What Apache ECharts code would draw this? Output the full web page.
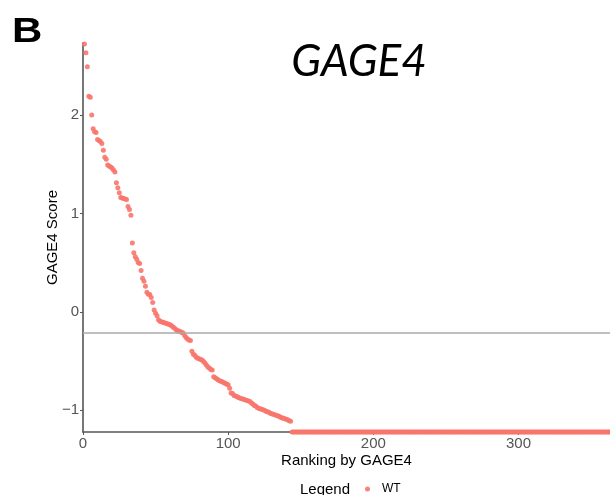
<!DOCTYPE html>
<html>
<head>
<meta charset="utf-8">
<script src="https://cdn.jsdelivr.net/npm/echarts@6/dist/echarts.min.js"></script>
<style>
  html, body { margin: 0; padding: 0; background: #fff; }
  #chart { width: 610px; height: 495px; }
</style>
</head>
<body>
<div id="chart"></div>
<script>
// GAGE4 scores of the WT samples, ordered by rank (rank = position + 1)
const rankedScores = [
  2.72, 2.63, 2.49, 2.19, 2.18, 2.00, 1.86, 1.83, 1.82, 1.75,
  1.74, 1.73, 1.71, 1.64, 1.57, 1.55, 1.49, 1.48, 1.47, 1.46,
  1.44, 1.42, 1.31, 1.26, 1.21, 1.16, 1.155, 1.15, 1.145, 1.14,
  1.07, 1.04, 0.98, 0.70, 0.60, 0.56, 0.535, 0.50, 0.49, 0.42,
  0.34, 0.31, 0.26, 0.20, 0.18, 0.175, 0.145, 0.095, 0.02, -0.015,
  -0.04, -0.08, -0.095, -0.10, -0.105, -0.11, -0.115, -0.12, -0.125, -0.13,
  -0.14, -0.155, -0.165, -0.18, -0.19, -0.195, -0.20, -0.21, -0.215, -0.24,
  -0.26, -0.275, -0.285, -0.29, -0.40, -0.43, -0.44, -0.46, -0.47, -0.475,
  -0.485, -0.49, -0.505, -0.52, -0.54, -0.56, -0.57, -0.585, -0.59, -0.66,
  -0.67, -0.68, -0.69, -0.70, -0.705, -0.71, -0.72, -0.725, -0.735, -0.74,
  -0.775, -0.825, -0.83, -0.85, -0.855, -0.86, -0.87, -0.875, -0.88, -0.885,
  -0.89, -0.895, -0.90, -0.905, -0.91, -0.925, -0.935, -0.95, -0.955, -0.97,
  -0.98, -0.985, -0.99, -0.995, -1.00, -1.01, -1.015, -1.02, -1.03, -1.035,
  -1.04, -1.045, -1.05, -1.055, -1.06, -1.07, -1.075, -1.08, -1.085, -1.09,
  -1.095, -1.105, -1.11
];

// samples sharing the lowest score (ranks 144 onwards)
const tiedScores = [
  -1.22, -1.22, -1.22, -1.22, -1.22, -1.22, -1.22, -1.22, -1.22, -1.22, -1.22, -1.22, -1.22, -1.22, -1.22, -1.22, -1.22, -1.22, -1.22, -1.22,
  -1.22, -1.22, -1.22, -1.22, -1.22, -1.22, -1.22, -1.22, -1.22, -1.22, -1.22, -1.22, -1.22, -1.22, -1.22, -1.22, -1.22, -1.22, -1.22, -1.22,
  -1.22, -1.22, -1.22, -1.22, -1.22, -1.22, -1.22, -1.22, -1.22, -1.22, -1.22, -1.22, -1.22, -1.22, -1.22, -1.22, -1.22, -1.22, -1.22, -1.22,
  -1.22, -1.22, -1.22, -1.22, -1.22, -1.22, -1.22, -1.22, -1.22, -1.22, -1.22, -1.22, -1.22, -1.22, -1.22, -1.22, -1.22, -1.22, -1.22, -1.22,
  -1.22, -1.22, -1.22, -1.22, -1.22, -1.22, -1.22, -1.22, -1.22, -1.22, -1.22, -1.22, -1.22, -1.22, -1.22, -1.22, -1.22, -1.22, -1.22, -1.22,
  -1.22, -1.22, -1.22, -1.22, -1.22, -1.22, -1.22, -1.22, -1.22, -1.22, -1.22, -1.22, -1.22, -1.22, -1.22, -1.22, -1.22, -1.22, -1.22, -1.22,
  -1.22, -1.22, -1.22, -1.22, -1.22, -1.22, -1.22, -1.22, -1.22, -1.22, -1.22, -1.22, -1.22, -1.22, -1.22, -1.22, -1.22, -1.22, -1.22, -1.22,
  -1.22, -1.22, -1.22, -1.22, -1.22, -1.22, -1.22, -1.22, -1.22, -1.22, -1.22, -1.22, -1.22, -1.22, -1.22, -1.22, -1.22, -1.22, -1.22, -1.22,
  -1.22, -1.22, -1.22, -1.22, -1.22, -1.22, -1.22, -1.22, -1.22, -1.22, -1.22, -1.22, -1.22, -1.22, -1.22, -1.22, -1.22, -1.22, -1.22, -1.22,
  -1.22, -1.22, -1.22, -1.22, -1.22, -1.22, -1.22, -1.22, -1.22, -1.22, -1.22, -1.22, -1.22, -1.22, -1.22, -1.22, -1.22, -1.22, -1.22, -1.22,
  -1.22, -1.22, -1.22, -1.22, -1.22, -1.22, -1.22, -1.22, -1.22, -1.22, -1.22, -1.22, -1.22, -1.22, -1.22, -1.22, -1.22, -1.22, -1.22, -1.22
];

const thresholdScore = -0.21;
const xTicks = [0, 100, 200, 300];
const yTicks = [-1, 0, 1, 2];
const geneName = 'GAGE4';
const groupName = 'WT';

const FONT = '"Liberation Sans", Arial, sans-serif';
const allScores = rankedScores.concat(tiedScores);
const points = allScores.map((v, i) => [i + 1, v]);

const chart = echarts.init(document.getElementById('chart'), null, { renderer: 'canvas' });

chart.setOption({
  backgroundColor: '#ffffff',
  animation: false,
  title: [
    {
      text: geneName, left: 354, top: 35, textAlign: 'center',
      textStyle: { fontFamily: 'Lato, "Open Sans", sans-serif', fontSize: 44, fontStyle: 'italic', fontWeight: 'normal', color: '#000' }
    }
  ],
  graphic: [
    {
      // panel letter
      type: 'text', x: 12, y: 15, scaleX: 1.2,
      style: { text: 'B', font: 'bold 35px ' + FONT, fill: '#000' }
    },
    {
      type: 'text', left: 300, top: 482,
      style: { text: 'Legend', font: '15px ' + FONT, fill: '#000' }
    }
  ],
  legend: {
    data: [groupName],
    left: 360, top: 478,
    icon: 'circle', itemWidth: 5, itemHeight: 5, itemGap: 6,
    textStyle: { fontFamily: FONT, fontSize: 12, color: '#000', padding: [0, 0, 0, 7] }
  },
  grid: { left: 83, right: 0, top: 43, bottom: 63, containLabel: false },
  xAxis: {
    type: 'value', min: 0, max: 363,
    name: 'Ranking by ' + geneName, nameLocation: 'middle', nameGap: 21,
    nameMoveOverlap: false,
    nameTextStyle: { fontFamily: FONT, fontSize: 15, color: '#000' },
    axisLine: { show: true, onZero: false, lineStyle: { color: '#555', width: 1.6 } },
    axisTick: { show: true, length: 3, customValues: xTicks, lineStyle: { color: '#555' } },
    axisLabel: { customValues: xTicks, fontFamily: FONT, fontSize: 15, color: '#555', margin: 4 },
    splitLine: { show: false }
  },
  yAxis: {
    type: 'value', min: -1.22, max: 2.73,
    name: geneName + ' Score', nameLocation: 'middle', nameGap: 23, nameRotate: 90,
    nameMoveOverlap: false,
    nameTextStyle: { fontFamily: FONT, fontSize: 15, color: '#000' },
    axisLine: { show: true, onZero: false, lineStyle: { color: '#555', width: 1.6 } },
    axisTick: { show: true, length: 3, customValues: yTicks, lineStyle: { color: '#555' } },
    axisLabel: {
      customValues: yTicks, fontFamily: FONT, fontSize: 15, color: '#555', margin: 4,
      formatter: v => String(v).replace('-', '\u2212')
    },
    splitLine: { show: false }
  },
  series: [
    {
      name: groupName,
      type: 'scatter',
      data: points,
      symbolSize: 5,
      itemStyle: { color: '#F8766D', opacity: 0.9 },
      clip: false,
      markLine: {
        silent: true, symbol: 'none',
        label: { show: false },
        lineStyle: { color: '#aaaaaa', width: 1.5, type: 'solid' },
        data: [{ yAxis: thresholdScore }]
      }
    }
  ]
});
</script>
</body>
</html>
